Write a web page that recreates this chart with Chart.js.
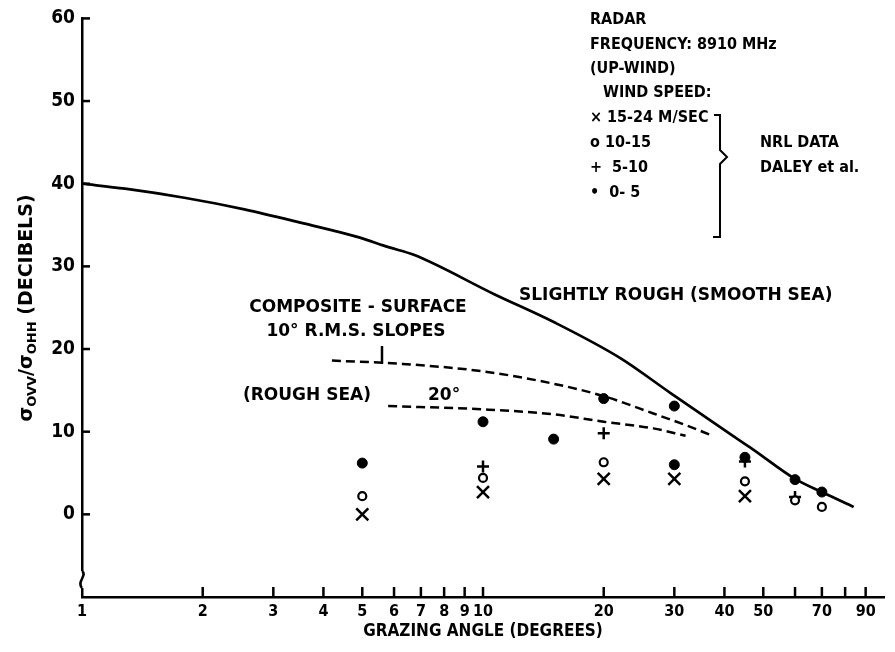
<!DOCTYPE html>
<html>
<head>
<meta charset="utf-8">
<script src="https://cdn.jsdelivr.net/npm/chart.js@4.4.1/dist/chart.umd.min.js"></script>
<style>
  html, body { margin: 0; padding: 0; background: #fff; }
  #wrap { width: 895px; height: 652px; }
</style>
</head>
<body>
<div id="wrap"><canvas id="ratioChart" width="895" height="652"></canvas></div>
<script>
// Theory curves: grazing angle (deg) vs sigma_VV / sigma_HH (dB)
const smoothSeaAngle = [1, 1.28, 1.8, 2.54, 3.57, 4.83, 5.84, 6.72, 10.7, 15.1, 22, 29.3, 42, 47, 60, 70, 84];
const smoothSeaDb    = [40, 39.4, 38.3, 36.9, 35.2, 33.6, 32.3, 31.4, 26.6, 23.2, 18.9, 14.7, 9.5, 7.9, 4.3, 2.7, 0.9];

const slope10Angle = [4.2, 6.3, 10, 15, 20, 26.6, 32, 37.4];
const slope10Db    = [18.6, 18.2, 17.3, 15.8, 14.3, 12.2, 10.8, 9.5];

const slope20Angle = [5.8, 10, 15, 20, 26.6, 32];
const slope20Db    = [13.1, 12.7, 12.1, 11.2, 10.4, 9.5];

// NRL data (Daley et al.) by wind speed
const wind15to24Angle = [5, 10, 20, 30, 45];
const wind15to24Db    = [0.0, 2.7, 4.3, 4.3, 2.2];
const wind10to15Angle = [5, 10, 20, 45, 60, 70];
const wind10to15Db    = [2.2, 4.4, 6.3, 4.0, 1.7, 0.9];
const wind5to10Angle  = [10, 20, 45, 60];
const wind5to10Db     = [5.8, 9.8, 6.4, 2.1];
const wind0to5Angle   = [5, 10, 15, 20, 30, 30, 45, 60, 70];
const wind0to5Db      = [6.2, 11.2, 9.1, 14.0, 13.1, 6.0, 6.9, 4.2, 2.7];

// axes
const xTickValues = [1, 2, 3, 4, 5, 6, 7, 8, 9, 10, 20, 30, 40, 50, 60, 70, 80, 90];
const xTickLabels = ['1', '2', '3', '4', '5', '6', '7', '8', '9', '10', '20', '30', '40', '50', '', '70', '', '90'];
const yTickValues = [0, 10, 20, 30, 40, 50, 60];

const FONT = '"DejaVu Sans Condensed", "DejaVu Sans", sans-serif';
const WIDE = '"DejaVu Sans", sans-serif';

function pts(xs, ys) {
    return xs.map((v, i) => ({ x: v, y: ys[i] }));
}

const inkPlugin = {
    id: 'ink',
    afterDraw(chart) {
        const { ctx, chartArea } = chart;
        const x = chart.scales.x, y = chart.scales.y;
        ctx.save();
        ctx.strokeStyle = '#000';
        ctx.fillStyle = '#000';
        ctx.lineWidth = 2.5;
        const line = (x1, y1, x2, y2) => { ctx.beginPath(); ctx.moveTo(x1, y1); ctx.lineTo(x2, y2); ctx.stroke(); };

        // inward tick marks
        yTickValues.forEach(v => {
            const py = y.getPixelForValue(v);
            line(chartArea.left, py, chartArea.left + 8, py);
        });
        xTickValues.forEach(v => {
            if (v === 1) return;
            const px = x.getPixelForValue(v);
            line(px, chartArea.bottom, px, chartArea.bottom - 10);
        });

        // axis break on the y axis
        ctx.fillStyle = '#fff';
        ctx.fillRect(chartArea.left - 3, 571, 7, 17);
        ctx.fillStyle = '#000';
        ctx.beginPath();
        ctx.moveTo(chartArea.left, 571);
        ctx.bezierCurveTo(chartArea.left + 6, 575, chartArea.left - 6, 582, chartArea.left, 588);
        ctx.stroke();

        // y axis title with subscripts
        ctx.save();
        ctx.translate(25, 308);
        ctx.rotate(-Math.PI / 2);
        const parts = [['σ', false], ['OVV', true], ['/σ', false], ['OHH', true], [' (DECIBELS)', false]];
        const mainFont = 'bold 19px ' + WIDE, subFont = 'bold 13px ' + WIDE;
        let total = 0;
        parts.forEach(p => { ctx.font = p[1] ? subFont : mainFont; total += ctx.measureText(p[0]).width; });
        let cx = -total / 2;
        ctx.textBaseline = 'alphabetic';
        ctx.textAlign = 'left';
        parts.forEach(p => {
            ctx.font = p[1] ? subFont : mainFont;
            ctx.fillText(p[0], cx, p[1] ? 11 : 7);
            cx += ctx.measureText(p[0]).width;
        });
        ctx.restore();

        // legend block
        ctx.font = 'bold 16px ' + FONT;
        ctx.textBaseline = 'middle';
        ctx.textAlign = 'left';
        const txt = (s, tx, ty) => ctx.fillText(s, tx, ty);
        txt('RADAR', 590, 20);
        txt('FREQUENCY: 8910 MHz', 590, 45);
        txt('(UP-WIND)', 590, 69);
        txt('WIND SPEED:', 603, 93);
        txt('× 15-24 M/SEC', 590, 118);
        txt('o 10-15', 590, 143);
        txt('+  5-10', 590, 168);
        txt('•  0- 5', 590, 193);
        txt('NRL DATA', 760, 143);
        txt('DALEY et al.', 760, 168);

        // bracket
        ctx.lineWidth = 2;
        ctx.beginPath();
        ctx.moveTo(714, 115); ctx.lineTo(720, 115); ctx.lineTo(720, 150);
        ctx.lineTo(727, 157); ctx.lineTo(720, 164); ctx.lineTo(720, 237); ctx.lineTo(713, 237);
        ctx.stroke();

        // curve labels
        ctx.font = 'bold 17px ' + WIDE;
        txt('SLIGHTLY ROUGH (SMOOTH SEA)', 519, 296);
        ctx.textAlign = 'center';
        txt('COMPOSITE - SURFACE', 358, 308);
        txt('10° R.M.S. SLOPES', 356, 332);
        ctx.textAlign = 'left';
        txt('(ROUGH SEA)', 243, 396);
        txt('20°', 428, 396);

        ctx.lineWidth = 2.5;
        line(382, 346, 382, 364);
        ctx.restore();
    }
};

new Chart(document.getElementById('ratioChart'), {
    type: 'scatter',
    data: {
        datasets: [
            {
                label: 'Slightly rough (smooth sea)',
                data: pts(smoothSeaAngle, smoothSeaDb),
                showLine: true,
                borderColor: '#000',
                borderWidth: 2.7,
                pointRadius: 0,
                cubicInterpolationMode: 'monotone'
            },
            {
                label: 'Composite surface 10° r.m.s. slopes',
                data: pts(slope10Angle, slope10Db),
                showLine: true,
                borderColor: '#000',
                borderWidth: 2.5,
                borderDash: [9, 5],
                pointRadius: 0,
                cubicInterpolationMode: 'monotone'
            },
            {
                label: 'Composite surface 20° (rough sea)',
                data: pts(slope20Angle, slope20Db),
                showLine: true,
                borderColor: '#000',
                borderWidth: 2.5,
                borderDash: [9, 5],
                pointRadius: 0,
                cubicInterpolationMode: 'monotone'
            },
            {
                label: '15-24 m/sec',
                data: pts(wind15to24Angle, wind15to24Db),
                pointStyle: 'crossRot',
                pointRadius: 8.5,
                borderColor: '#000',
                borderWidth: 2.5
            },
            {
                label: '10-15',
                data: pts(wind10to15Angle, wind10to15Db),
                pointStyle: 'circle',
                pointRadius: 4,
                borderColor: '#000',
                backgroundColor: '#fff',
                borderWidth: 2.2
            },
            {
                label: '5-10',
                data: pts(wind5to10Angle, wind5to10Db),
                pointStyle: 'cross',
                pointRadius: 6,
                borderColor: '#000',
                borderWidth: 2.5
            },
            {
                label: '0-5',
                data: pts(wind0to5Angle, wind0to5Db),
                pointStyle: 'circle',
                pointRadius: 5,
                borderColor: '#000',
                backgroundColor: '#000',
                borderWidth: 1
            }
        ]
    },
    options: {
        responsive: false,
        animation: false,
        layout: { padding: { top: 16, right: 2, left: 0, bottom: 0 } },
        plugins: {
            legend: { display: false },
            tooltip: { enabled: false }
        },
        scales: {
            x: {
                type: 'logarithmic',
                min: 1,
                max: 100,
                afterBuildTicks: scale => { scale.ticks = xTickValues.map(v => ({ value: v })); },
                afterFit: scale => { scale.height = 55; },
                ticks: {
                    autoSkip: false,
                    maxRotation: 0,
                    padding: 5,
                    color: '#000',
                    font: { family: FONT, size: 16, weight: 'bold' },
                    callback: (value, index) => xTickLabels[index]
                },
                grid: { drawOnChartArea: false, drawTicks: false },
                border: { display: true, color: '#000', width: 2.5 },
                title: {
                    display: true,
                    text: 'GRAZING ANGLE (DEGREES)',
                    color: '#000',
                    font: { family: FONT, size: 17, weight: 'bold' },
                    padding: { top: 2, bottom: 10 }
                }
            },
            y: {
                min: -10,
                max: 60,
                afterBuildTicks: scale => { scale.ticks = yTickValues.map(v => ({ value: v })); },
                afterFit: scale => { scale.width = 82; },
                ticks: {
                    padding: 7,
                    color: '#000',
                    font: { family: FONT, size: 19, weight: 'bold' }
                },
                grid: { drawOnChartArea: false, drawTicks: false },
                border: { display: true, color: '#000', width: 2.5 }
            }
        }
    },
    plugins: [inkPlugin]
});
</script>
</body>
</html>
